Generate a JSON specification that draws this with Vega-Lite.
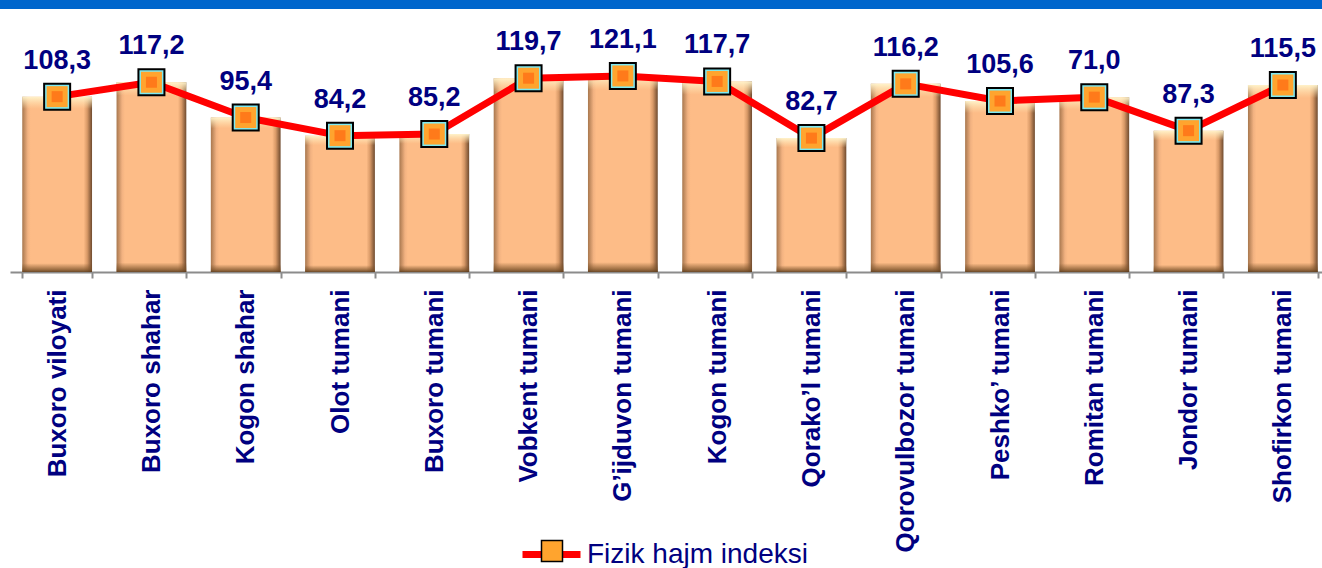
{
  "$schema": "https://vega.github.io/schema/vega-lite/v6.json",
  "width": 1322,
  "height": 272,
  "autosize": {"type": "none"},
  "padding": {"left": 0, "top": 0, "right": 0, "bottom": 296},
  "background": "white",
  "config": {"view": {"stroke": null}, "font": "Liberation Sans"},
  "data": {
    "values": [
      {"district": "Buxoro viloyati", "value": 108.3, "label": "108,3", "series": "Fizik hajm indeksi"},
      {"district": "Buxoro shahar", "value": 117.2, "label": "117,2", "series": "Fizik hajm indeksi"},
      {"district": "Kogon shahar", "value": 95.4, "label": "95,4", "series": "Fizik hajm indeksi"},
      {"district": "Olot tumani", "value": 84.2, "label": "84,2", "series": "Fizik hajm indeksi"},
      {"district": "Buxoro tumani", "value": 85.2, "label": "85,2", "series": "Fizik hajm indeksi"},
      {"district": "Vobkent tumani", "value": 119.7, "label": "119,7", "series": "Fizik hajm indeksi"},
      {"district": "G’ijduvon tumani", "value": 121.1, "label": "121,1", "series": "Fizik hajm indeksi"},
      {"district": "Kogon tumani", "value": 117.7, "label": "117,7", "series": "Fizik hajm indeksi"},
      {"district": "Qorako’l tumani", "value": 82.7, "label": "82,7", "series": "Fizik hajm indeksi"},
      {"district": "Qorovulbozor tumani", "value": 116.2, "label": "116,2", "series": "Fizik hajm indeksi"},
      {"district": "Peshko’ tumani", "value": 105.6, "label": "105,6", "series": "Fizik hajm indeksi"},
      {"district": "Romitan tumani", "value": 108.0, "label": "71,0", "series": "Fizik hajm indeksi"},
      {"district": "Jondor tumani", "value": 87.3, "label": "87,3", "series": "Fizik hajm indeksi"},
      {"district": "Shofirkon tumani", "value": 115.5, "label": "115,5", "series": "Fizik hajm indeksi"}
    ]
  },
  "layer": [
    {
      "data": {"values": [{"k": "band"}]},
      "mark": {"type": "rect", "color": "#0066CC"},
      "encoding": {
        "y": {"datum": 168, "type": "quantitative", "scale": {"domain": [0, 168], "nice": false, "zero": true}, "axis": null},
        "y2": {"datum": 162.5}
      }
    },
    {
      "encoding": {
        "x": {
          "field": "district", "type": "nominal", "sort": null,
          "scale": {"range": [10, 1330], "paddingInner": 0.26, "paddingOuter": 0.13},
          "axis": {
            "title": null, "labelAngle": 270, "labelFontSize": 26, "labelFontWeight": "bold",
            "labelColor": "#000080", "labelFont": "Liberation Sans", "labelLimit": 0, "labelPadding": 11,
            "tickBand": "extent", "tickSize": 6, "tickWidth": 2, "tickColor": "#8C8C8C",
            "domainColor": "#8C8C8C", "domainWidth": 2, "grid": false
          }
        },
        "y": {"field": "value", "type": "quantitative", "scale": {"domain": [0, 168], "nice": false, "zero": true}, "axis": null}
      },
      "layer": [
        {
          "mark": {
            "type": "bar",
            "color": {
              "gradient": "linear", "x1": 0, "x2": 1, "y1": 0, "y2": 0,
              "stops": [
                {"offset": 0, "color": "#A8774E"},
                {"offset": 0.08, "color": "#F2B281"},
                {"offset": 0.12, "color": "#FDBC87"},
                {"offset": 0.88, "color": "#FDBC87"},
                {"offset": 0.93, "color": "#D99A68"},
                {"offset": 1, "color": "#6E4A2E"}
              ]
            }
          }
        },
        {
          "mark": {
            "type": "bar",
            "color": {
              "gradient": "linear", "x1": 0, "x2": 0, "y1": 0, "y2": 1,
              "stops": [
                {"offset": 0, "color": "rgba(255,245,205,0.95)"},
                {"offset": 0.07, "color": "rgba(255,230,180,0)"},
                {"offset": 0.95, "color": "rgba(120,80,40,0)"},
                {"offset": 0.985, "color": "rgba(120,80,40,0.7)"},
                {"offset": 1, "color": "rgba(90,60,30,0.9)"}
              ]
            }
          }
        },
        {
          "mark": {"type": "line", "strokeWidth": 7, "strokeCap": "round", "strokeJoin": "round"},
          "encoding": {
            "color": {
              "field": "series", "type": "nominal",
              "scale": {"range": ["#FF0000"]},
              "legend": {
                "orient": "none", "legendX": 519, "legendY": 522, "title": null, "padding": 0,
                "symbolType": "stroke", "symbolSize": 3364, "symbolStrokeWidth": 7,
                "labelFontSize": 28, "labelColor": "#000080", "labelFont": "Liberation Sans", "labelOffset": 3, "labelLimit": 0
              }
            }
          }
        },
        {
          "mark": {"type": "point", "shape": "square", "size": 676, "filled": true, "fill": "#7EEAF2", "stroke": "#000000", "strokeWidth": 2, "opacity": 1}
        },
        {
          "mark": {"type": "point", "shape": "square", "size": 441, "filled": true, "opacity": 1, "strokeWidth": 0},
          "encoding": {
            "fill": {
              "field": "series", "type": "nominal",
              "scale": {"range": ["#FFA42E"]},
              "legend": {
                "orient": "none", "legendX": 538, "legendY": 537, "title": null, "padding": 0,
                "symbolType": "square", "symbolSize": 441, "symbolStrokeColor": "#000000", "symbolStrokeWidth": 1.5,
                "labelFontSize": 28, "labelExpr": "''"
              }
            }
          }
        },
        {
          "mark": {"type": "point", "shape": "square", "size": 121, "filled": true, "fill": "#FF7A1A", "opacity": 1, "strokeWidth": 0}
        },
        {
          "mark": {"type": "text", "dy": -36, "fontSize": 27, "fontWeight": "bold", "color": "#000080", "font": "Liberation Sans"},
          "encoding": {"text": {"field": "label"}}
        }
      ]
    }
  ]
}
